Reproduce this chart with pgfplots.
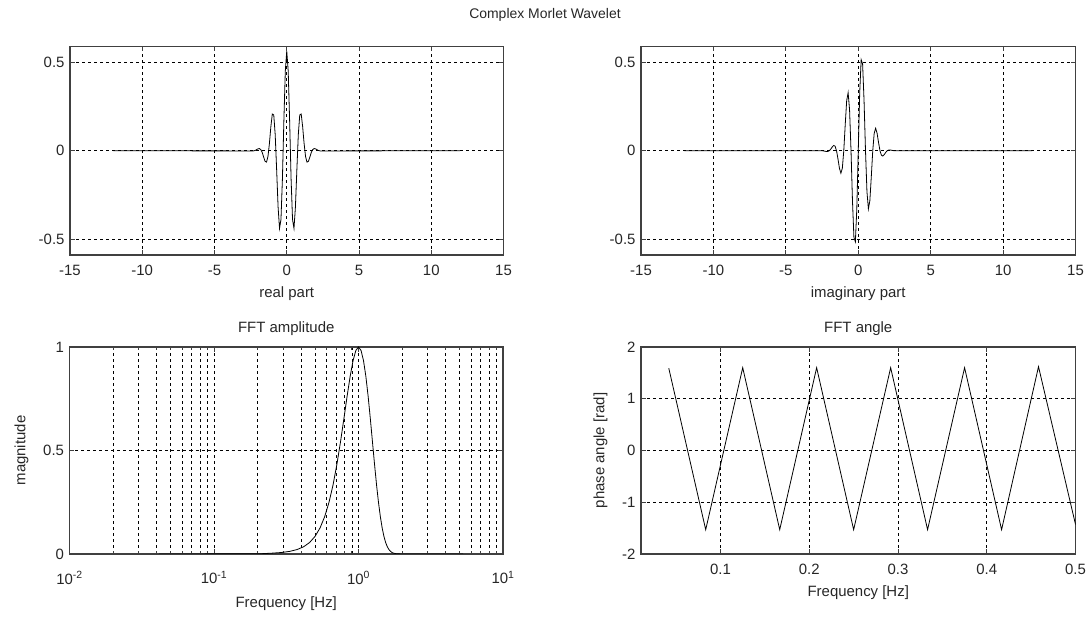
\documentclass[border=0pt]{standalone}
\usepackage{fontspec}
\setmainfont{Liberation Sans}
\usepackage{pgfplots}
\pgfplotsset{compat=1.18}

% MATLAB-like look shared by the four panels
\pgfplotsset{
  mlab/.style={
    scale only axis,
    enlargelimits=false,
    axis line style={black!75, line width=1.1bp},
    grid=major,
    grid style={black, line width=0.7bp, dash pattern=on 3bp off 3bp},
    major tick length=5bp,
    minor tick length=3bp,
    tick style={black!75, line width=0.8bp},
    tick align=inside,
    xtick pos=both, ytick pos=both,
    tick label style={font=\fontsize{15}{17}\selectfont, black!85},
    xticklabel style={yshift=-7bp},
    yticklabel style={xshift=-2bp},
    label style={font=\fontsize{15}{17}\selectfont, black!85},
    xlabel style={yshift=-4bp},
    ylabel style={yshift=8bp},
    title style={font=\fontsize{15}{17}\selectfont, black!85, yshift=2bp},
  },
  wave/.style={black, line width=0.8bp},
}

\begin{document}
\begin{tikzpicture}[x=1bp, y=1bp]
\path[use as bounding box] (0,0) rectangle (1091,621);
\node[font=\fontsize{14}{16}\selectfont, black!85] at (545,606) {Complex Morlet Wavelet};

% ---------- real part
\begin{axis}[mlab,
  at={(70bp,366bp)}, anchor=south west,
  width=433.5bp, height=208.5bp,
  xmin=-15, xmax=15, ymin=-0.59, ymax=0.59,
  xtick={-15,-10,-5,0,5,10,15},
  xticklabels={-15,-10,-5,0,5,10,15},
  ytick={-0.5,0,0.5},
  yticklabels={-0.5,0,0.5},
  xlabel={real part},
]
\addplot[wave] coordinates {
(-12,0) (-2.5,-0.0011) (-2.4,-0.0015) (-2.3,-0.0009) (-2.2,0.0014) (-2.1,0.0056)
(-2.0,0.0103) (-1.9,0.0124) (-1.8,0.0068) (-1.7,-0.0097) (-1.6,-0.0353)
(-1.5,-0.0595) (-1.4,-0.0643) (-1.3,-0.0322) (-1.2,0.0413) (-1.1,0.1361)
(-1.0,0.2076) (-0.9,0.2031) (-0.8,0.0919) (-0.7,-0.1068) (-0.6,-0.3184)
(-0.5,-0.4394) (-0.4,-0.3890) (-0.3,-0.1593) (-0.2,0.1675) (-0.1,0.4519)
(0,0.5642)
(0.1,0.4519) (0.2,0.1675) (0.3,-0.1593) (0.4,-0.3890) (0.5,-0.4394)
(0.6,-0.3184) (0.7,-0.1068) (0.8,0.0919) (0.9,0.2031) (1.0,0.2076)
(1.1,0.1361) (1.2,0.0413) (1.3,-0.0322) (1.4,-0.0643) (1.5,-0.0595)
(1.6,-0.0353) (1.7,-0.0097) (1.8,0.0068) (1.9,0.0124) (2.0,0.0103)
(2.1,0.0056) (2.2,0.0014) (2.3,-0.0009) (2.4,-0.0015) (2.5,-0.0011) (12,0)
};
\end{axis}

% ---------- imaginary part
\begin{axis}[mlab,
  at={(641bp,366bp)}, anchor=south west,
  width=434.5bp, height=208.5bp,
  xmin=-15, xmax=15, ymin=-0.59, ymax=0.59,
  xtick={-15,-10,-5,0,5,10,15},
  xticklabels={-15,-10,-5,0,5,10,15},
  ytick={-0.5,0,0.5},
  yticklabels={-0.5,0,0.5},
  xlabel={imaginary part},
]
\addplot[wave] coordinates {
(-12,0) (-2.5,0) (-2.4,-0.0011) (-2.3,-0.0027) (-2.2,-0.0043) (-2.1,-0.0041)
(-2.0,0) (-1.9,0.0090) (-1.8,0.0210) (-1.7,0.0299) (-1.6,0.0256)
(-1.5,0) (-1.4,-0.0467) (-1.3,-0.0990) (-1.2,-0.1272) (-1.1,-0.0989)
(-1.0,0) (-0.9,0.1475) (-0.8,0.2830) (-0.7,0.3287) (-0.6,0.2314)
(-0.5,0) (-0.4,-0.2826) (-0.3,-0.4904) (-0.2,-0.5156) (-0.1,-0.3283)
(0,0)
(0.1,0.3283) (0.2,0.5156) (0.3,0.4904) (0.4,0.2826) (0.5,0)
(0.6,-0.2314) (0.7,-0.3287) (0.8,-0.2830) (0.9,-0.1475) (1.0,0)
(1.1,0.0989) (1.2,0.1272) (1.3,0.0990) (1.4,0.0467) (1.5,0)
(1.6,-0.0256) (1.7,-0.0299) (1.8,-0.0210) (1.9,-0.0090) (2.0,0)
(2.1,0.0041) (2.2,0.0043) (2.3,0.0027) (2.4,0.0011) (2.5,0) (12,0)
};
\end{axis}

% ---------- FFT amplitude
\begin{axis}[mlab,
  at={(69.5bp,67bp)}, anchor=south west,
  width=433.5bp, height=207bp,
  xmode=log, log basis x=10,
  xmin=0.01, xmax=10, ymin=0, ymax=1,
  xtick={0.01,0.1,1,10},
  minor xtick={0.02,0.03,0.04,0.05,0.06,0.07,0.08,0.09,
               0.2,0.3,0.4,0.5,0.6,0.7,0.8,0.9,
               2,3,4,5,6,7,8,9},
  xticklabels={10\textsuperscript{-2},10\textsuperscript{-1},10\textsuperscript{0},10\textsuperscript{1}},
  xticklabel style={yshift=-7bp},
  ytick={0,0.5,1},
  yticklabels={0,0.5,1},
  xminorgrids=true,
  minor grid style={black, line width=0.7bp, dash pattern=on 3bp off 3bp},
  title={FFT amplitude},
  xlabel={Frequency [Hz]},
  xlabel style={yshift=-2bp},
  ylabel={magnitude},
]
\addplot[wave] coordinates {
(0.0417,0) (0.2083,0.0010) (0.25,0.0039) (0.2917,0.0071) (0.3333,0.0125)
(0.375,0.0212) (0.4167,0.0348) (0.4583,0.0552) (0.5,0.0848) (0.5417,0.1258)
(0.5833,0.1803) (0.625,0.2496) (0.6667,0.3340) (0.7083,0.4319) (0.75,0.5396)
(0.7917,0.6516) (0.8333,0.7602) (0.875,0.8571) (0.9167,0.9338) (0.9583,0.9830)
(1.0,1.0) (1.0417,0.9830) (1.0833,0.9338) (1.125,0.8571) (1.1667,0.7602)
(1.2083,0.6516) (1.25,0.5396) (1.2917,0.4319) (1.3333,0.3340) (1.375,0.2496)
(1.4167,0.1803) (1.4583,0.1258) (1.5,0.0848) (1.5417,0.0552) (1.5833,0.0348)
(1.625,0.0212) (1.6667,0.0125) (1.7083,0.0071) (1.75,0.0039) (1.8333,0.0010)
(2.0,0) (5.3,0)
};
\end{axis}

% ---------- FFT angle
\begin{axis}[mlab,
  at={(641bp,67bp)}, anchor=south west,
  width=434.5bp, height=207bp,
  xmin=0.0104, xmax=0.5, ymin=-2, ymax=2,
  xtick={0.1,0.2,0.3,0.4,0.5},
  xticklabels={0.1,0.2,0.3,0.4,0.5},
  ytick={-2,-1,0,1,2},
  yticklabels={-2,-1,0,1,2},
  title={FFT angle},
  xlabel={Frequency [Hz]},
  ylabel={phase angle [rad]},
]
\addplot[wave] coordinates {
(0.0417,1.59) (0.0833,-1.53) (0.125,1.60) (0.1667,-1.53) (0.2083,1.60)
(0.25,-1.53) (0.2917,1.60) (0.3333,-1.53) (0.375,1.60) (0.4167,-1.53)
(0.4583,1.62) (0.5,-1.43)
};
\end{axis}
\end{tikzpicture}
\end{document}
